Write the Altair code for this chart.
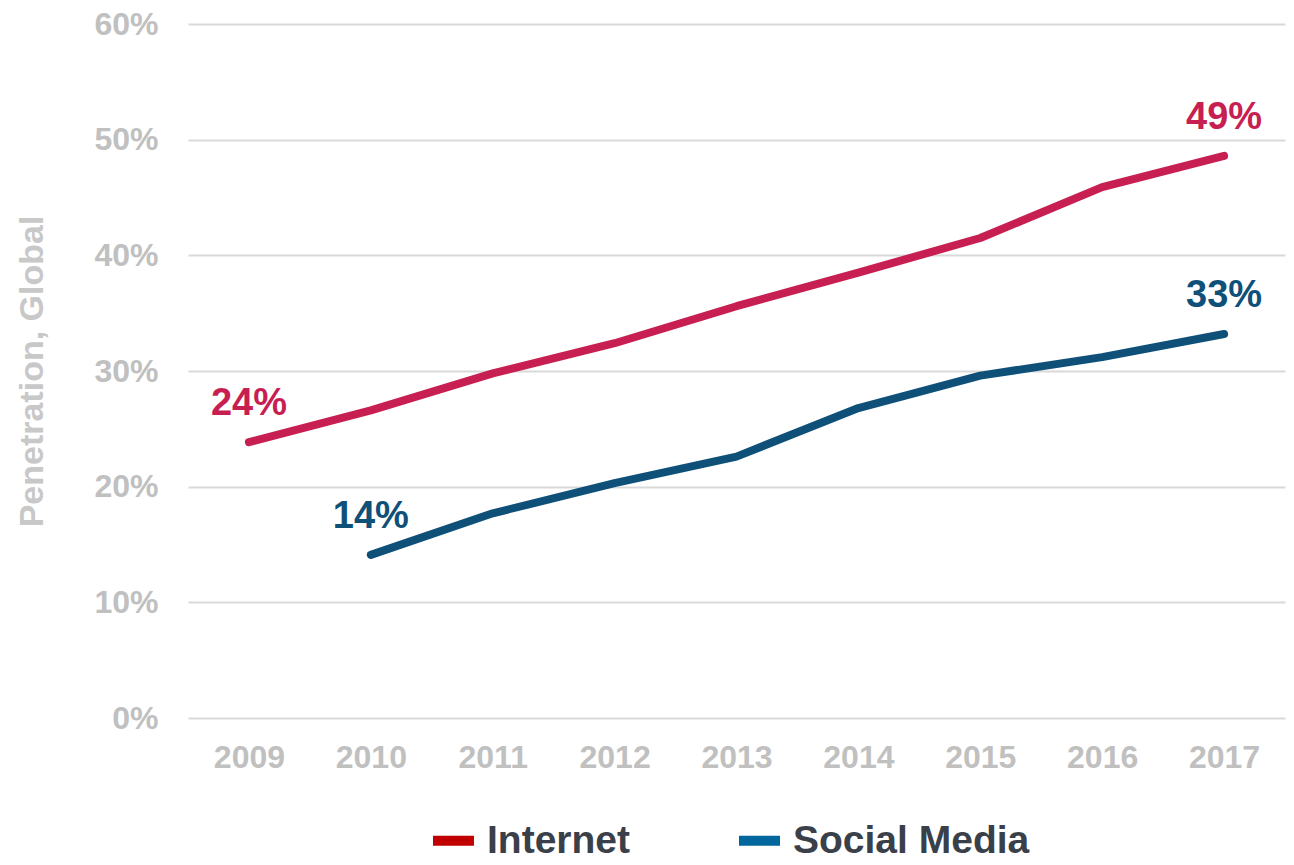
import altair as alt
import pandas as pd

years = ["2009", "2010", "2011", "2012", "2013", "2014", "2015", "2016", "2017"]
internet = [23.85, 26.6, 29.8, 32.4, 35.6, 38.5, 41.5, 45.9, 48.6]
social = [None, 14.1, 17.7, 20.3, 22.6, 26.8, 29.6, 31.2, 33.2]
series_names = ["Internet", "Social Media"]
line_colors = ["#c81f52", "#0f5079"]
legend_colors = ["#c00000", "#00669e"]
y_ticks = [0, 10, 20, 30, 40, 50, 60]

rows = []
for name, vals in zip(series_names, [internet, social]):
    valid = [(y, v) for y, v in zip(years, vals) if v is not None]
    for i, (y, v) in enumerate(valid):
        label = f"{int(v + 0.5)}%" if i in (0, len(valid) - 1) else ""
        rows.append({"year": y, "value": v / 100, "series": name, "label": label})
df = pd.DataFrame(rows)

FONT = "Liberation Sans"

x = alt.X("year:O", sort=years, scale=alt.Scale(padding=0.5),
          axis=alt.Axis(title=None, labelFontSize=32, labelFont=FONT, labelFontWeight="bold",
                        labelColor="#c0c0c0", ticks=False, domain=False, grid=False,
                        labelPadding=24, labelAngle=0))
y = alt.Y("value:Q", scale=alt.Scale(domain=[0, 0.6], nice=False),
          axis=alt.Axis(title="Penetration, Global", values=[t / 100 for t in y_ticks], format=".0%",
                        labelFontSize=32, labelFont=FONT, labelFontWeight="bold", labelColor="#c0c0c0",
                        titleFontSize=34, titleFont=FONT, titleFontWeight="bold", titleColor="#c8c8c8",
                        titlePadding=44, ticks=False, domain=False, gridColor="#d9d9d9",
                        gridWidth=2, labelPadding=30))

color_line = alt.Color("series:N", scale=alt.Scale(domain=series_names, range=line_colors), legend=None)

lines = alt.Chart(df).mark_line(strokeWidth=8, strokeCap="round", strokeJoin="round").encode(
    x=x, y=y, color=color_line, detail="series:N")

labels = alt.Chart(df).transform_filter("datum.label != ''").mark_text(
    fontSize=38, font=FONT, fontWeight="bold", dy=-27, baseline="alphabetic", align="center"
).encode(x=alt.X("year:O", sort=years), y="value:Q", text="label:N", color=color_line)

legend_layer = alt.Chart(df).mark_point(filled=True, opacity=0).encode(
    x=alt.X("year:O", sort=years), y="value:Q",
    color=alt.Color("series:N", scale=alt.Scale(domain=series_names, range=legend_colors),
                    legend=alt.Legend(title=None, orient="none", direction="horizontal",
                                      legendX=246, legendY=797,
                                      symbolType="M-2,-0.5H2V0.5H-2Z", symbolSize=420,
                                      symbolOpacity=1, symbolStrokeWidth=0,
                                      labelFontSize=39, labelFont=FONT, labelFontWeight="bold",
                                      labelColor="#3a4049", labelOffset=14, labelLimit=500,
                                      columnPadding=108, padding=0)))

chart = alt.layer(lines, labels, legend_layer).resolve_scale(color="independent").properties(
    width=1097, height=694,
    autosize=alt.AutoSizeParams(type="none"),
    padding={"left": 180, "top": 16, "right": 1, "bottom": 139},
).configure(background="white").configure_view(stroke=None, strokeWidth=0)

chart.save("out.html", embed_options={"renderer": "svg", "actions": False})
